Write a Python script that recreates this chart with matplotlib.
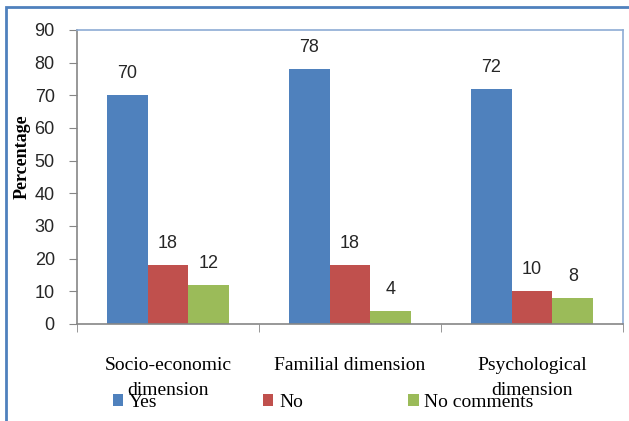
import numpy as np
import matplotlib
matplotlib.use("Agg")
import matplotlib.pyplot as plt
from matplotlib.patches import Rectangle

categories = ["Socio-economic\ndimension", "Familial dimension", "Psychological\ndimension"]
series_names = ["Yes", "No", "No comments"]
yes_vals = [70, 78, 72]
no_vals = [18, 18, 10]
nocom_vals = [12, 4, 8]
colors = ["#4F81BD", "#C0504D", "#9BBB59"]
yticks = [0, 10, 20, 30, 40, 50, 60, 70, 80, 90]

num_font = ["Liberation Sans Narrow", "DejaVu Sans Condensed", "Liberation Sans"]
txt_font = ["Liberation Serif", "DejaVu Serif"]

fig = plt.figure(figsize=(6.29, 4.21), dpi=100)
ax = fig.add_axes([77 / 629, 1 - 324 / 421, 546 / 629, 294 / 421])

# outer chart border
fig.patches.append(Rectangle((6 / 629, -0.1), 1.2, 1.1 - 7 / 421, transform=fig.transFigure,
                             fill=False, edgecolor="#4F81BD", linewidth=2))

x = np.arange(len(categories))
w = 0.224
for i, (vals, name) in enumerate(zip([yes_vals, no_vals, nocom_vals], series_names)):
    pos = x + (i - 1) * w
    ax.bar(pos, vals, w, color=colors[i], label=name)
    for p, v in zip(pos, vals):
        ax.text(p, v + 4, str(v), ha="center", va="bottom", fontsize=13, family=num_font,
                color="#262626")

ax.set_xlim(-0.5, 2.5)
ax.set_ylim(0, 90)
ax.set_yticks(yticks)
ax.set_yticklabels([str(t) for t in yticks], family=num_font, fontsize=13, color="#262626")
ax.set_xticks(x)
ax.set_xticklabels(categories, family=txt_font, fontsize=14, linespacing=1.6)
ax.tick_params(axis="x", length=0, pad=24)
ax.set_xticks([-0.5, 0.5, 1.5, 2.5], minor=True)
ax.tick_params(axis="x", which="minor", length=6, color="#868686")
ax.tick_params(axis="y", length=6, color="#868686", pad=10)
for s in ax.spines.values():
    s.set_color("#8EACD4")
    s.set_linewidth(1.2)
ax.spines["left"].set_color("#868686")
ax.spines["bottom"].set_color("#868686")

ax.set_ylabel("Percentage", family=txt_font, fontsize=13, fontweight="heavy")
ax.yaxis.set_label_coords(-0.085, 0.57)

leg = fig.legend(loc="lower left", bbox_to_anchor=(95 / 629, -0.018), ncol=3, frameon=False,
                 prop={"family": txt_font, "size": 14}, handlelength=0.55, handleheight=0.55,
                 handletextpad=0.3, columnspacing=5.4)

fig.savefig("out.png", dpi=100)
